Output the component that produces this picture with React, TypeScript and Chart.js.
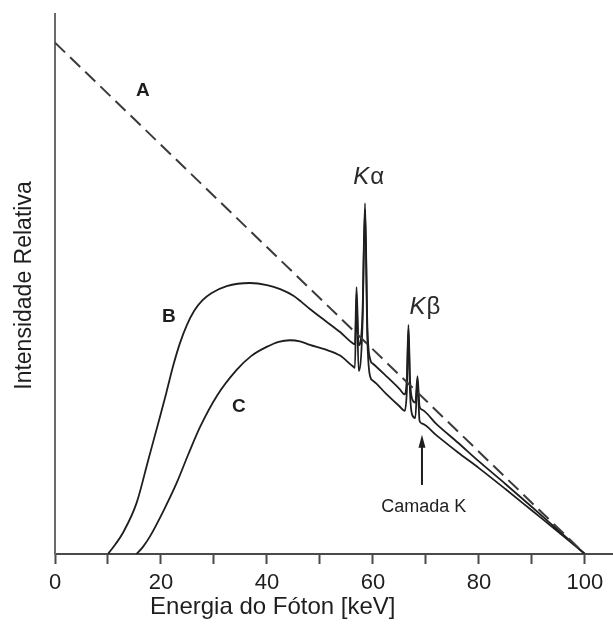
import { useEffect, useRef } from "react";
import { Chart, registerables } from "chart.js";

Chart.register(...registerables);

// Espectro A: bremsstrahlung sem filtração (linha tracejada)
const energyA = [0, 100];
const intensityA = [100, 0];

// Espectro B (keV / intensidade relativa)
const energyB = [
  10.0, 11.4, 12.8, 15.4, 17.6, 19.8, 21.0, 22.3, 23.5, 24.9, 26.3, 27.8, 29.5, 32.4, 36.8, 40.0, 42.5, 45.0, 46.5,
  48.1, 51.0, 53.8, 56.2, 56.6, 56.9, 57.3, 58.0, 58.5, 58.95, 59.5, 60.0, 62.5, 65.0, 66.0, 66.4, 66.7, 67.0, 67.4,
  68.0, 68.4, 68.8, 69.3, 72.0, 76.0, 80.0, 85.0, 90.0, 95.0, 100.0,
];
const intensityB = [
  0, 1.9, 4.1, 10.0, 18.4, 26.8, 31.5, 36.8, 41.0, 44.8, 47.6, 49.6, 51.0, 52.4, 53.0, 52.6, 51.8, 50.5, 49.3,
  47.9, 45.6, 43.4, 41.2, 41.0, 52.2, 40.8, 46.0, 68.6, 44.5, 38.0, 37.2, 34.8, 32.3, 31.2, 34.5, 44.8, 34.0, 30.3,
  29.6, 34.8, 28.8, 28.2, 25.4, 21.8, 18.1, 13.7, 9.2, 4.6, 0,
];

// Espectro C (keV / intensidade relativa)
const energyC = [
  15.4, 16.6, 17.9, 20.4, 22.96, 25.2, 27.36, 30.6, 34.28, 37.0, 39.94, 42.2, 44.34, 46.2, 48.1, 51.0, 53.8, 56.2,
  56.6, 56.9, 57.3, 58.0, 58.5, 58.95, 59.5, 60.0, 62.5, 65.0, 66.0, 66.4, 66.7, 67.0, 67.4, 68.0, 68.4, 68.8, 69.3,
  72.0, 76.0, 80.0, 85.0, 90.0, 95.0, 100.0,
];
const intensityC = [
  0, 1.4, 3.4, 8.3, 13.9, 19.6, 24.8, 31.0, 36.0, 38.7, 40.5, 41.5, 41.8, 41.6, 40.9, 40.0, 38.8, 36.7,
  36.4, 50.8, 35.8, 44.0, 67.4, 42.0, 34.6, 33.9, 31.3, 28.9, 28.0, 32.0, 43.8, 31.5, 27.2, 26.6, 34.0, 26.0, 25.5,
  23.2, 19.9, 16.8, 12.7, 8.5, 4.3, 0,
];

// Marcas do eixo das energias
const energyTicks = [0, 10, 20, 30, 40, 50, 60, 70, 80, 90, 100];
const labelledTicks = [0, 20, 40, 60, 80, 100];

const FONT = "'Liberation Sans', Arial, Helvetica, sans-serif";
const INK = "#1e1e1e";

const toPoints = (xs: number[], ys: number[]) => xs.map((x, i) => ({ x, y: ys[i] }));

// "K" em itálico seguido da letra grega em estilo normal, centrado em (cx, cy)
function drawShellLabel(ctx: CanvasRenderingContext2D, greek: string, cx: number, cy: number) {
  const italic = `italic 24px ${FONT}`;
  const upright = `24px ${FONT}`;
  ctx.font = italic;
  const wK = ctx.measureText("K").width;
  ctx.font = upright;
  const wG = ctx.measureText(greek).width;
  const left = cx - (wK + wG + 1) / 2;
  ctx.textAlign = "left";
  ctx.font = italic;
  ctx.fillText("K", left, cy);
  ctx.font = upright;
  ctx.fillText(greek, left + wK + 1, cy);
  ctx.textAlign = "center";
}

const labelsPlugin = {
  id: "spectrumLabels",
  afterDraw(chart: any) {
    const { ctx, chartArea } = chart;
    const sx = chart.scales.x;
    const sy = chart.scales.y;
    const px = (v: number) => sx.getPixelForValue(v);
    const py = (v: number) => sy.getPixelForValue(v);

    ctx.save();
    ctx.fillStyle = INK;
    ctx.strokeStyle = INK;
    ctx.textAlign = "center";
    ctx.textBaseline = "middle";

    // Identificação das curvas
    ctx.font = `bold 19px ${FONT}`;
    ctx.fillText("A", px(16.6), py(90.5));
    ctx.fillText("B", px(21.5), py(46.3));
    ctx.fillText("C", px(34.7), py(28.7));

    // Raias características
    ctx.fillStyle = "#2a2a2a";
    drawShellLabel(ctx, "α", px(59.2), py(73.7));
    drawShellLabel(ctx, "β", px(69.8), py(48.3));
    ctx.fillStyle = INK;

    // Seta da camada K
    const ax = px(69.25);
    const tip = py(23.3);
    const tail = py(13.5);
    ctx.lineWidth = 2;
    ctx.beginPath();
    ctx.moveTo(ax, tail);
    ctx.lineTo(ax, tip + 10);
    ctx.stroke();
    ctx.beginPath();
    ctx.moveTo(ax, tip);
    ctx.lineTo(ax - 3.5, tip + 13);
    ctx.lineTo(ax + 3.5, tip + 13);
    ctx.closePath();
    ctx.fill();

    ctx.font = `18px ${FONT}`;
    ctx.fillText("Camada K", px(69.6), py(9.2));

    // Títulos dos eixos
    ctx.font = `24px ${FONT}`;
    ctx.fillText("Energia do Fóton [keV]", px(41.1), chartArea.bottom + 53);
    ctx.font = `23px ${FONT}`;
    ctx.save();
    ctx.translate(chartArea.left - 30, py(52.5));
    ctx.rotate(-Math.PI / 2);
    ctx.fillText("Intensidade Relativa", 0, 0);
    ctx.restore();

    ctx.restore();
  },
};

export default function App() {
  const canvasRef = useRef<HTMLCanvasElement | null>(null);

  useEffect(() => {
    document.body.style.margin = "0";
    const canvas = canvasRef.current;
    if (!canvas) return;

    const chart = new Chart(canvas, {
      type: "line",
      data: {
        datasets: [
          {
            label: "A",
            data: toPoints(energyA, intensityA),
            borderColor: "#3a3a3a",
            borderWidth: 2,
            borderDash: [14, 7],
            pointRadius: 0,
            tension: 0,
            fill: false,
          },
          {
            label: "B",
            data: toPoints(energyB, intensityB),
            borderColor: INK,
            borderWidth: 1.8,
            pointRadius: 0,
            cubicInterpolationMode: "monotone",
            fill: false,
          },
          {
            label: "C",
            data: toPoints(energyC, intensityC),
            borderColor: INK,
            borderWidth: 1.8,
            pointRadius: 0,
            cubicInterpolationMode: "monotone",
            fill: false,
          },
        ],
      },
      options: {
        responsive: false,
        animation: false,
        devicePixelRatio: 1,
        layout: { padding: { top: 14, left: 0, right: 0, bottom: 0 } },
        plugins: { legend: { display: false }, tooltip: { enabled: false } },
        scales: {
          x: {
            type: "linear",
            min: 0,
            max: 105.3,
            afterBuildTicks: (s: any) => {
              s.ticks = energyTicks.map((v) => ({ value: v }));
            },
            afterFit: (s: any) => {
              s.height = 72;
            },
            border: { display: true, color: "#4a4a4a", width: 2 },
            grid: {
              drawOnChartArea: false,
              drawTicks: true,
              tickLength: 10,
              tickColor: "#4a4a4a",
              tickWidth: 2,
            },
            ticks: {
              autoSkip: false,
              maxRotation: 0,
              padding: 6,
              color: INK,
              font: { family: FONT, size: 22 },
              callback: (v: any) => (labelledTicks.includes(Number(v)) ? String(v) : ""),
            },
          },
          y: {
            type: "linear",
            min: 0,
            max: 105.6,
            afterFit: (s: any) => {
              s.width = 55;
            },
            border: { display: true, color: "#6a6a6a", width: 2 },
            grid: { display: true, drawOnChartArea: false, drawTicks: false },
            ticks: { display: false },
          },
        },
      },
      plugins: [labelsPlugin],
    });

    return () => chart.destroy();
  }, []);

  return <canvas ref={canvasRef} width={613} height={626} style={{ display: "block" }} />;
}
